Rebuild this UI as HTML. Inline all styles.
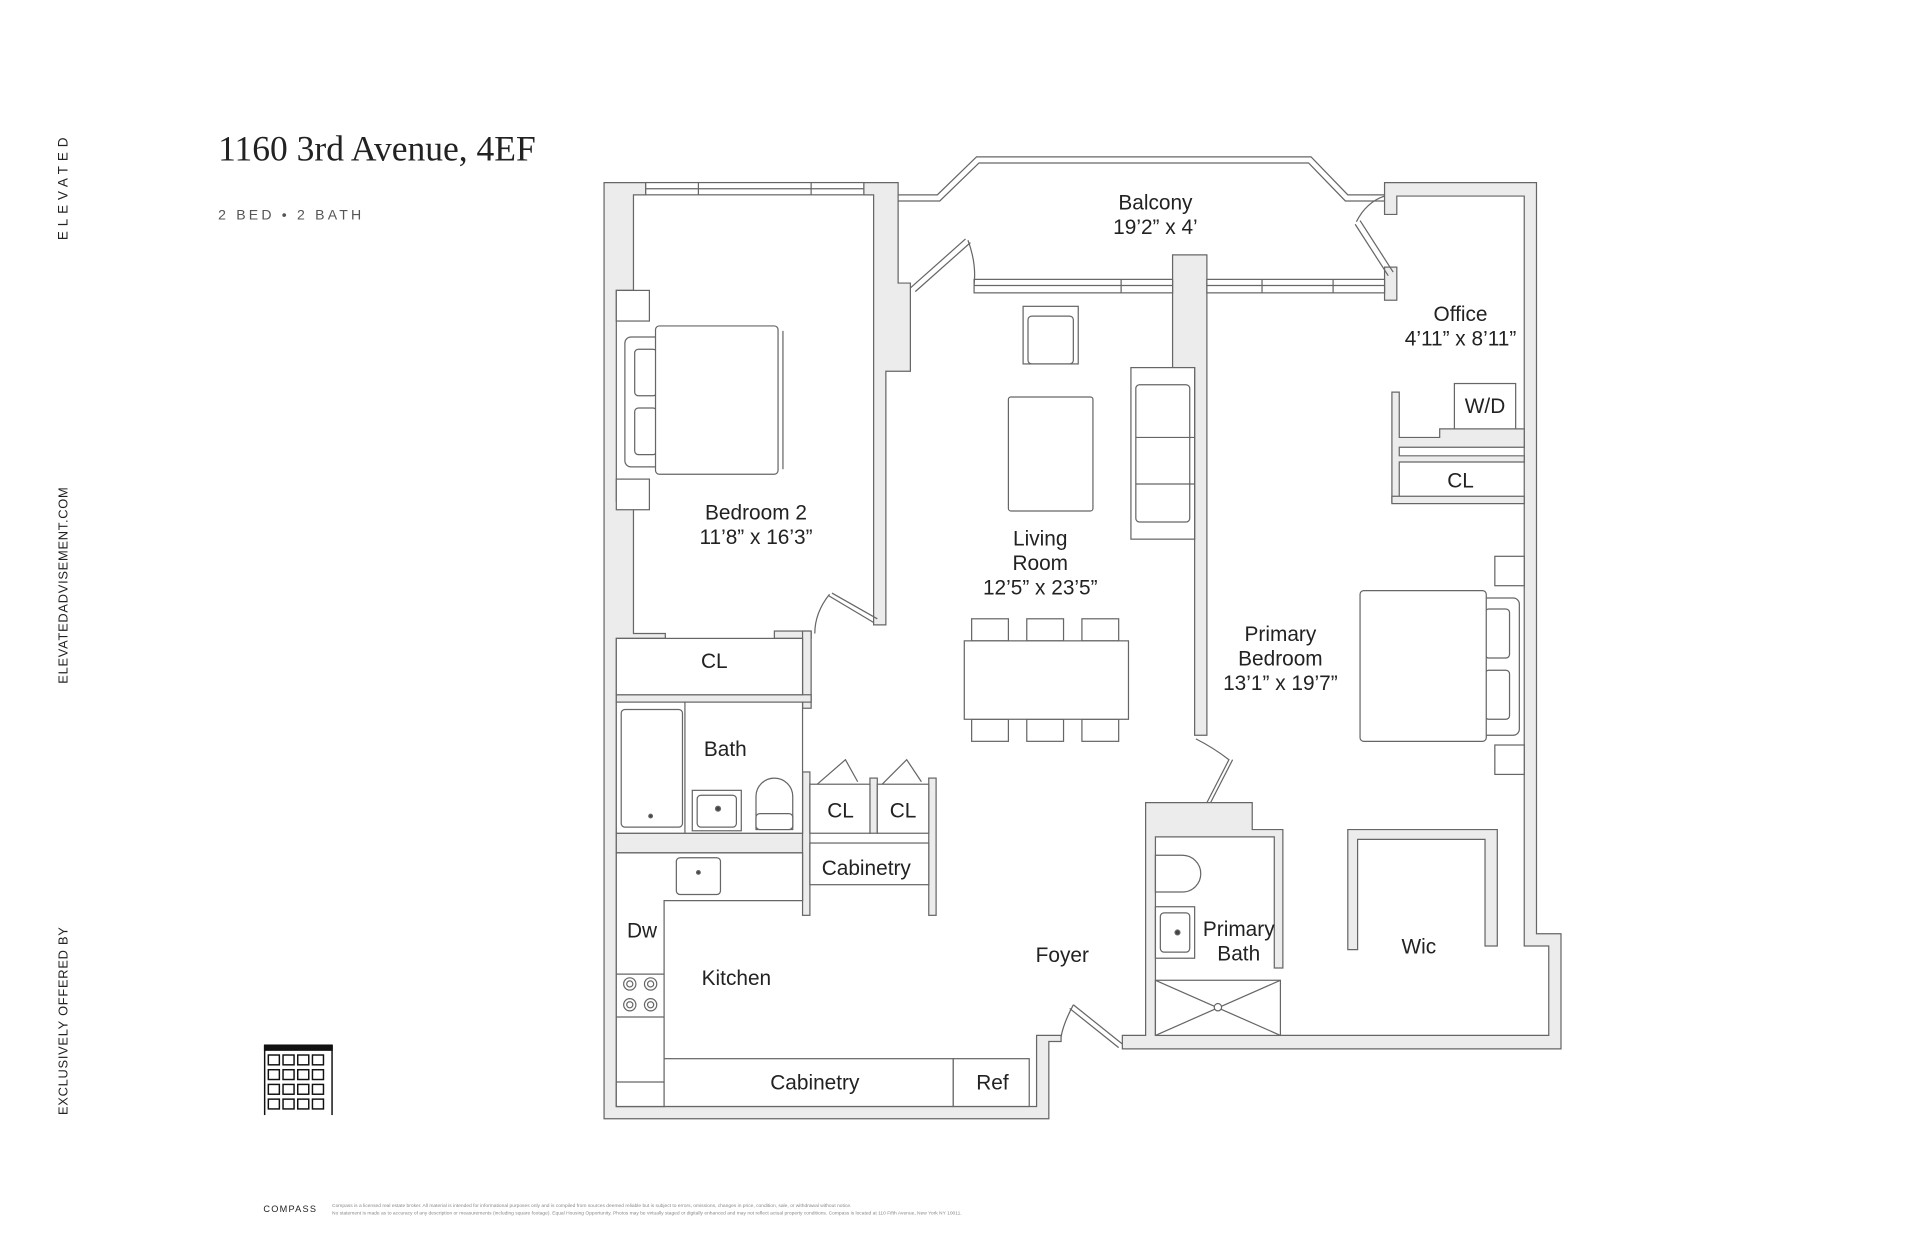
<!DOCTYPE html>
<html><head><meta charset="utf-8"><style>
html,body{margin:0;padding:0;background:#fff;}
svg{display:block;}
text{font-family:"Liberation Sans",sans-serif;fill:#222;}
</style></head><body>
<svg width="1920" height="1242" viewBox="0 0 1567 1013.6" preserveAspectRatio="none" xmlns="http://www.w3.org/2000/svg">
<rect width="1567" height="1014" fill="#fff"/>
<!-- side texts -->
<text transform="translate(55,196) rotate(-90)" font-size="11" letter-spacing="4">ELEVATED</text>
<text transform="translate(55,558) rotate(-90)" font-size="10.5" letter-spacing="0.6">ELEVATEDADVISEMENT.COM</text>
<text transform="translate(55,910) rotate(-90)" font-size="10.5" letter-spacing="0.6">EXCLUSIVELY OFFERED BY</text>
<text x="178" y="131" font-size="29" style="font-family:'Liberation Serif',serif">1160 3rd Avenue, 4EF</text>
<text x="178" y="179" font-size="11.5" letter-spacing="2.6" style="fill:#555">2 BED • 2 BATH</text>
<!-- building logo -->
<g stroke="#111" fill="none" stroke-width="1.2">
<rect x="216" y="853" width="55" height="4" fill="#111"/>
<line x1="216" y1="853" x2="216" y2="910"/><line x1="271" y1="853" x2="271" y2="910"/>
<rect x="219" y="861" width="9" height="8"/><rect x="231" y="861" width="9" height="8"/><rect x="243" y="861" width="9" height="8"/><rect x="255" y="861" width="9" height="8"/>
<rect x="219" y="873" width="9" height="8"/><rect x="231" y="873" width="9" height="8"/><rect x="243" y="873" width="9" height="8"/><rect x="255" y="873" width="9" height="8"/>
<rect x="219" y="885" width="9" height="8"/><rect x="231" y="885" width="9" height="8"/><rect x="243" y="885" width="9" height="8"/><rect x="255" y="885" width="9" height="8"/>
<rect x="219" y="897" width="9" height="8"/><rect x="231" y="897" width="9" height="8"/><rect x="243" y="897" width="9" height="8"/><rect x="255" y="897" width="9" height="8"/>
</g>
<!-- footer -->
<text x="215" y="989" font-size="7.5" letter-spacing="1">COMPASS</text>
<text x="271" y="985" font-size="4" style="fill:#888">Compass is a licensed real estate broker. All material is intended for informational purposes only and is compiled from sources deemed reliable but is subject to errors, omissions, changes in price, condition, sale, or withdrawal without notice.</text>
<text x="271" y="991" font-size="4" style="fill:#888">No statement is made as to accuracy of any description or measurements (including square footage). Equal Housing Opportunity. Photos may be virtually staged or digitally enhanced and may not reflect actual property conditions. Compass is located at 110 Fifth Avenue, New York NY 10011.</text>

<!-- WALLS -->
<g fill="#ececec" stroke="#666" stroke-width="1">
<path d="M493,149 H527 V159 H517 V237 H503 V409 H517 V517 H543 V521 H503 V903 H846 V845 H866 V850 H856 V913 H493 Z"/>
<path d="M705,149 H733 V231 H743 V303 H723 V510 H713 V159 H705 Z"/>
<rect x="632" y="515" width="30" height="6"/>
<rect x="655" y="515" width="7" height="63"/>
<rect x="503" y="567" width="159" height="6"/>
<rect x="503" y="680" width="152" height="16"/>
<rect x="655" y="630" width="6" height="117"/>
<rect x="710" y="635" width="6" height="45"/>
<rect x="758" y="635" width="6" height="112"/>
<rect x="503" y="883" width="39" height="20"/>
<path d="M957,208 H985 V600 H975 V300 H957 Z"/>
<path d="M1130,149 H1254 V762 H1274 V856 H916 V845 H935 V655 H1022 V677 H1047 V790 H1040 V683 H943 V845 H1264 V772 H1244 V160 H1140 V175 H1130 Z"/>
<path d="M1100,677 H1222 V772 H1212 V685 H1108 V775 H1100 Z"/>
<path d="M1136,320 H1142 V357 H1175 V350 H1244 V365 H1142 V372 H1244 V377 H1142 V410 H1136 Z"/>
<rect x="1136" y="405" width="108" height="6"/>
<rect x="1130" y="218" width="10" height="27"/>
</g>

<!-- windows -->
<g fill="#fff" stroke="#666" stroke-width="1">
<rect x="527" y="149" width="178" height="10"/>
<line x1="527" y1="154" x2="705" y2="154"/>
<rect x="795" y="228" width="162" height="11"/>
<line x1="795" y1="233" x2="957" y2="233"/>
<rect x="985" y="228" width="145" height="11"/>
<line x1="985" y1="233" x2="1130" y2="233"/>
<line x1="570" y1="149" x2="570" y2="159"/><line x1="662" y1="149" x2="662" y2="159"/>
<line x1="915" y1="228" x2="915" y2="239"/><line x1="1030" y1="228" x2="1030" y2="239"/><line x1="1088" y1="228" x2="1088" y2="239"/>
</g>
<!-- balcony -->
<g fill="none" stroke="#666" stroke-width="1">
<polyline points="733,159 765,159 797,128 1070,128 1100,159 1130,159"/>
<polyline points="733,164 767,164 799,133 1068,133 1098,164 1130,164"/>
</g>
<!-- doors -->
<g fill="none" stroke="#666" stroke-width="1">
<path d="M743,235 L788,195"/><path d="M747,238 L792,198"/><path d="M790,196 Q797,215 795,232"/>
<path d="M1137,222 L1110,180"/><path d="M1133,225 L1106,183"/><path d="M1107,181 Q1115,165 1130,160"/>
<path d="M713,508 L676,486"/><path d="M716,505 L679,484"/><path d="M677,485 Q665,500 665,517"/>
<path d="M655,580 L630,622"/><path d="M630,622 Q640,636 655,638"/>
<path d="M667,640 L690,620 L700,638"/><path d="M720,640 L740,620 L752,638"/>
<path d="M976,603 Q990,610 1003,620 L985,655"/><path d="M1006,620 L988,655"/>
<path d="M876,820 L916,852"/><path d="M873,823 L913,855"/><path d="M876,820 Q868,835 866,846"/>
</g>

<!-- fixtures -->
<g fill="#fff" stroke="#666" stroke-width="1">
<rect x="503" y="237" width="27" height="25"/><rect x="503" y="391" width="27" height="25"/>
<rect x="510" y="275" width="30" height="106" rx="5"/>
<rect x="518" y="285" width="18" height="38" rx="3"/><rect x="518" y="333" width="18" height="38" rx="3"/>
<rect x="535" y="266" width="100" height="121" rx="3"/><line x1="639" y1="270" x2="639" y2="383"/>
<rect x="503" y="521" width="152" height="46"/>
<rect x="661" y="640" width="49" height="40"/><rect x="716" y="640" width="42" height="40"/>
<rect x="661" y="688" width="97" height="34"/>
<rect x="503" y="573" width="152" height="107"/>
<line x1="559" y1="573" x2="559" y2="680"/>
<rect x="507" y="579" width="50" height="96" rx="3"/>
<circle cx="531" cy="666" r="1.5" fill="#444"/>
<rect x="565" y="645" width="40" height="33"/><rect x="569" y="649" width="32" height="26" rx="3"/>
<circle cx="586" cy="660" r="2" fill="#444"/>
<path d="M617,677 V650 A15,15 0 0 1 647,650 V677 Z"/><rect x="617" y="664" width="30" height="13" rx="3"/>
<path d="M503,696 H655 V735 H542 V903 H503 Z"/>
<rect x="552" y="700" width="36" height="30" rx="3"/><circle cx="570" cy="712" r="1.5" fill="#444"/>
<line x1="503" y1="795" x2="542" y2="795"/><line x1="503" y1="830" x2="542" y2="830"/>
<line x1="503" y1="883" x2="542" y2="883"/>
<circle cx="514" cy="803" r="5"/><circle cx="514" cy="803" r="2.5"/><circle cx="531" cy="803" r="5"/><circle cx="531" cy="803" r="2.5"/>
<circle cx="514" cy="820" r="5"/><circle cx="514" cy="820" r="2.5"/><circle cx="531" cy="820" r="5"/><circle cx="531" cy="820" r="2.5"/>
<rect x="542" y="864" width="236" height="39"/><rect x="778" y="864" width="62" height="39"/>
<rect x="835" y="250" width="45" height="47"/><rect x="839" y="258" width="37" height="39" rx="3"/>
<rect x="823" y="324" width="69" height="93" rx="2"/>
<rect x="923" y="300" width="52" height="140"/>
<rect x="927" y="314" width="44" height="112" rx="3"/>
<line x1="927" y1="357" x2="975" y2="357"/><line x1="927" y1="395" x2="975" y2="395"/>
<rect x="793" y="505" width="30" height="18"/><rect x="838" y="505" width="30" height="18"/><rect x="883" y="505" width="30" height="18"/>
<rect x="793" y="587" width="30" height="18"/><rect x="838" y="587" width="30" height="18"/><rect x="883" y="587" width="30" height="18"/>
<rect x="787" y="523" width="134" height="64"/>
<rect x="1187" y="313" width="50" height="37"/>
<rect x="1220" y="454" width="24" height="24"/><rect x="1220" y="608" width="24" height="24"/>
<rect x="1205" y="488" width="35" height="112" rx="5"/>
<rect x="1212" y="497" width="20" height="40" rx="3"/><rect x="1212" y="547" width="20" height="40" rx="3"/>
<rect x="1110" y="482" width="103" height="123" rx="3"/>
<path d="M943,728 V698 H965 A15,15 0 0 1 965,728 Z"/>
<rect x="943" y="740" width="32" height="42"/><rect x="947" y="745" width="24" height="32" rx="3"/>
<circle cx="961" cy="761" r="2" fill="#444"/>
<rect x="943" y="800" width="102" height="45"/>
<line x1="943" y1="800" x2="1045" y2="845"/><line x1="1045" y1="800" x2="943" y2="845"/>
<circle cx="994" cy="822" r="3"/>
</g>

<!-- labels -->
<g font-size="17" text-anchor="middle">
<text x="943" y="171">Balcony</text><text x="943" y="191">19’2” x 4’</text>
<text x="1192" y="262">Office</text><text x="1192" y="282">4’11” x 8’11”</text>
<text x="1212" y="337">W/D</text>
<text x="1192" y="398">CL</text>
<text x="617" y="424">Bedroom 2</text><text x="617" y="444">11’8” x 16’3”</text>
<text x="849" y="445">Living</text><text x="849" y="465">Room</text><text x="849" y="485">12’5” x 23’5”</text>
<text x="1045" y="523">Primary</text><text x="1045" y="543">Bedroom</text><text x="1045" y="563">13’1” x 19’7”</text>
<text x="583" y="545">CL</text>
<text x="592" y="617">Bath</text>
<text x="686" y="667">CL</text><text x="737" y="667">CL</text>
<text x="707" y="714">Cabinetry</text>
<text x="524" y="765">Dw</text>
<text x="601" y="804">Kitchen</text>
<text x="867" y="785">Foyer</text>
<text x="1011" y="764">Primary</text><text x="1011" y="784">Bath</text>
<text x="1158" y="778">Wic</text>
<text x="665" y="889">Cabinetry</text>
<text x="810" y="889">Ref</text>
</g>
</svg>
</body></html>
